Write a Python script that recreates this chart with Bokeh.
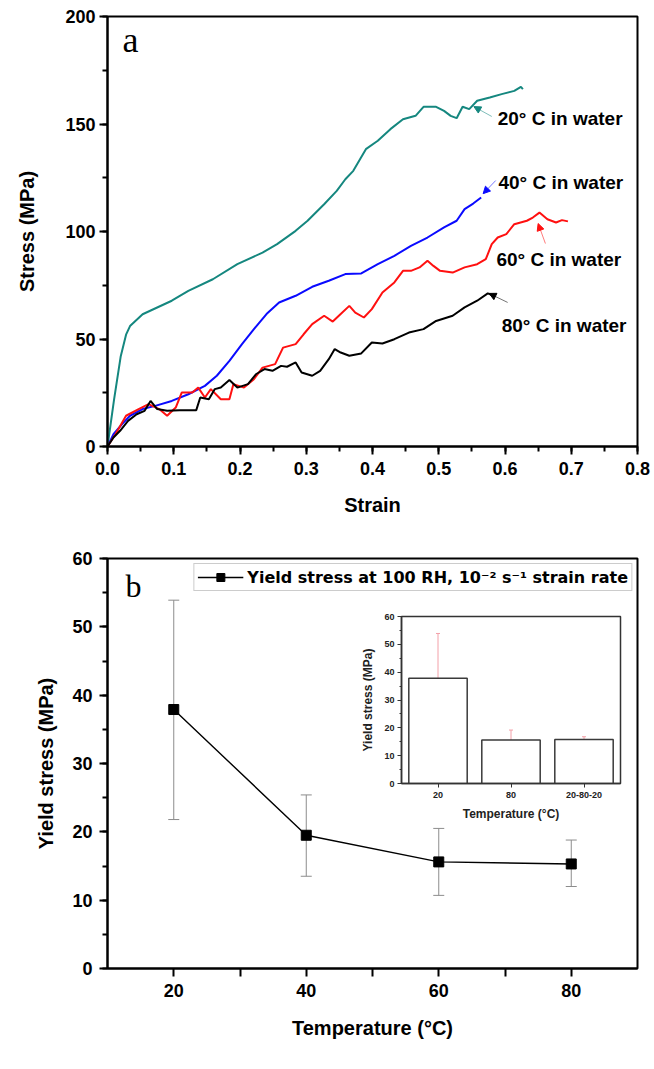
from bokeh.plotting import figure
from bokeh.layouts import column
from bokeh.models import (ColumnDataSource, SingleIntervalTicker, FixedTicker, NumeralTickFormatter,
                          Arrow, NormalHead, Whisker, TeeHead, Legend, LegendItem, Range1d)
from bokeh.core.properties import value
from bokeh.embed import file_html
from bokeh.resources import INLINE

# ---------------- Panel a data (stress-strain curves) ----------------
strain_20 = [0, 0.010, 0.020, 0.028, 0.034, 0.053, 0.097, 0.122, 0.159, 0.196, 0.234, 0.256, 0.284, 0.302,
             0.327, 0.346, 0.359, 0.371, 0.390, 0.408, 0.427, 0.446, 0.465, 0.477, 0.496, 0.508, 0.518,
             0.527, 0.536, 0.546, 0.558, 0.577, 0.595, 0.614, 0.624, 0.627]
stress_20 = [0, 22, 42, 52, 56, 61.5, 67.8, 72.4, 77.8, 84.8, 90.2, 94.1, 100.3, 105,
             112.7, 118.9, 124.3, 128.2, 138.3, 142.2, 147.6, 152.2, 153.8, 158, 158, 156.1, 153.8,
             152.7, 158, 156.9, 160.8, 162.3, 163.9, 165.4, 167.3, 166.2]

strain_40 = [0, 0.009, 0.022, 0.034, 0.053, 0.072, 0.097, 0.122, 0.147, 0.165, 0.184, 0.203, 0.221, 0.240,
             0.259, 0.284, 0.309, 0.334, 0.359, 0.383, 0.408, 0.433, 0.458, 0.483, 0.508, 0.527, 0.539,
             0.552, 0.564]
stress_40 = [0, 5.7, 10.4, 14.3, 17.4, 18.9, 21.2, 24.3, 28.2, 32.9, 39.8, 47.6, 54.6, 61.6,
             67, 70.1, 74.3, 77.1, 80.2, 80.5, 84.8, 88.7, 93.3, 97.2, 101.9, 105, 110.4,
             113, 115.8]

strain_60 = [0, 0.012, 0.028, 0.047, 0.062, 0.078, 0.090, 0.103, 0.112, 0.128, 0.137, 0.147, 0.156, 0.171,
             0.184, 0.190, 0.206, 0.221, 0.234, 0.253, 0.265, 0.284, 0.296, 0.309, 0.327, 0.340, 0.352,
             0.365, 0.374, 0.387, 0.399, 0.415, 0.433, 0.446, 0.458, 0.471, 0.483, 0.492, 0.502, 0.521,
             0.539, 0.558, 0.571, 0.580, 0.589, 0.602, 0.614, 0.633, 0.642, 0.652, 0.664, 0.677, 0.686, 0.695]
stress_60 = [0, 5.7, 14.3, 17.4, 19.7, 17.4, 14.3, 18.1, 25.1, 25.1, 27.4, 22.8, 26.7, 22.0,
             22.0, 29.0, 27.4, 31.3, 36.7, 38.3, 46.0, 47.6, 52.2, 56.9, 60.8, 58.1, 61.6,
             65.4, 62.3, 60.0, 63.9, 71.6, 76.3, 81.7, 81.7, 83.3, 86.4, 84.0, 81.7, 80.9,
             83.3, 84.8, 87.1, 94.1, 97.2, 98.8, 103.4, 105, 106.5, 108.8, 105.7, 104.2, 105.3, 104.7]

strain_80 = [0, 0.009, 0.019, 0.031, 0.044, 0.056, 0.065, 0.075, 0.090, 0.109, 0.134, 0.140, 0.153, 0.162,
             0.171, 0.184, 0.196, 0.212, 0.224, 0.237, 0.249, 0.262, 0.271, 0.284, 0.293, 0.309, 0.321,
             0.334, 0.343, 0.352, 0.365, 0.383, 0.399, 0.415, 0.433, 0.455, 0.477, 0.496, 0.521, 0.539,
             0.558, 0.574, 0.583]
stress_80 = [0, 4.2, 7.3, 11.9, 15.0, 16.6, 21.2, 17.4, 16.6, 16.9, 16.9, 22.8, 22.0, 26.7,
             27.4, 30.9, 27.4, 29.0, 33.6, 36.0, 35.2, 37.5, 37.1, 39.1, 34.4, 32.9, 35.2,
             40.6, 45.3, 43.7, 42.2, 43.3, 48.4, 47.9, 49.9, 53.0, 54.6, 58.4, 60.8, 64.7,
             67.8, 71.2, 70.1]

curve_labels = ["20\u00b0 C in water", "40\u00b0 C in water", "60\u00b0 C in water", "80\u00b0 C in water"]

# ---------------- Panel b data ----------------
temps = [20, 40, 60, 80]
yield_stress = [37.9, 19.5, 15.6, 15.3]
yield_lo = [21.8, 13.5, 10.7, 12.0]
yield_hi = [53.9, 25.4, 20.5, 18.8]

# inset
inset_cats = ["20", "80", "20-80-20"]
inset_vals = [37.8, 15.6, 15.8]
inset_lo = [21.9, 11.7, 15.0]
inset_hi = [53.9, 19.2, 16.8]

FONT = "Liberation Sans"
TEAL = "#15877f"
BLUE = "#0a0aff"
RED = "#ff1010"


def style_axes(p, tick_size="18px", label_size="20px"):
    for ax in p.axis:
        ax.axis_line_width = 2
        ax.axis_line_color = "black"
        ax.major_tick_line_width = 2
        ax.minor_tick_line_width = 2
        ax.major_tick_out = 8
        ax.major_tick_in = 0
        ax.minor_tick_out = 5
        ax.minor_tick_in = 0
        ax.minor_tick_line_color = "black"
        ax.major_label_text_font = FONT
        ax.major_label_text_font_style = "bold"
        ax.major_label_text_font_size = tick_size
        ax.major_label_text_color = "black"
        ax.axis_label_text_font = FONT
        ax.axis_label_text_font_style = "bold"
        ax.axis_label_text_font_size = label_size
        ax.axis_label_text_color = "black"
    p.xgrid.visible = False
    p.ygrid.visible = False
    p.outline_line_color = "black"
    p.outline_line_width = 2
    p.outline_line_alpha = 1


# ---------------- Panel a ----------------
pa = figure(width=654, height=520, x_range=Range1d(0, 0.8), y_range=Range1d(0, 200),
            output_backend="svg", toolbar_location=None,
            min_border_left=103, min_border_right=17, min_border_top=16, min_border_bottom=74)
pa.xaxis.ticker = SingleIntervalTicker(interval=0.1, num_minor_ticks=2)
pa.xaxis.formatter = NumeralTickFormatter(format="0.0")
pa.yaxis.ticker = SingleIntervalTicker(interval=50, num_minor_ticks=2)
pa.xaxis.axis_label = "Strain"
pa.yaxis.axis_label = "Stress (MPa)"
style_axes(pa)
pa.xaxis.major_label_standoff = 7
pa.xaxis.axis_label_standoff = 16
pa.yaxis.major_label_standoff = 4
pa.yaxis.axis_label_standoff = 24

pa.line(strain_20, stress_20, color=TEAL, line_width=2)
pa.line(strain_40, stress_40, color=BLUE, line_width=2)
pa.line(strain_60, stress_60, color=RED, line_width=2)
pa.line(strain_80, stress_80, color="black", line_width=2)

# annotation arrows (tail near label -> head at curve)
arrows = [((0.580, 153.5), (0.553, 158.1), TEAL),
          ((0.586, 123.7), (0.567, 117.6), BLUE),
          ((0.661, 94.4), (0.650, 103.7), RED),
          ((0.604, 67.0), (0.576, 71.2), "black")]
for (x0, y0), (x1, y1), c in arrows:
    pa.add_layout(Arrow(x_start=x0, y_start=y0, x_end=x1, y_end=y1, line_color=c, line_alpha=0.55,
                        line_width=1,
                        end=NormalHead(size=7, fill_color=c, line_color=c)))

lab_x = [0.589, 0.590, 0.587, 0.595]
lab_y = [152.6, 122.8, 87.0, 56.3]
pa.text(x=lab_x, y=lab_y, text=curve_labels, text_font=value(FONT), text_font_style="bold",
        text_font_size="19px", text_baseline="middle", text_align="left", text_color="black")
pa.text(x=[0.0225], y=[189], text=["a"], text_font=value("Liberation Serif"),
        text_font_size="36px", text_baseline="alphabetic", text_color="black")

# ---------------- Panel b ----------------
pb = figure(width=654, height=549, x_range=Range1d(10, 90), y_range=Range1d(0, 60),
            output_backend="svg", toolbar_location=None,
            min_border_left=107, min_border_right=13, min_border_top=38, min_border_bottom=101)
pb.xaxis.ticker = FixedTicker(ticks=[20, 40, 60, 80], minor_ticks=[30, 50, 70])
pb.yaxis.ticker = SingleIntervalTicker(interval=10, num_minor_ticks=2)
pb.xaxis.axis_label = "Temperature (\u00b0C)"
pb.yaxis.axis_label = "Yield stress (MPa)"
style_axes(pb)
pb.xaxis.minor_tick_out = 8
pb.xaxis.major_label_standoff = 7
pb.xaxis.axis_label_standoff = 17
pb.yaxis.major_label_standoff = 7
pb.yaxis.axis_label_standoff = 12

src_b = ColumnDataSource(dict(t=temps, y=yield_stress, lo=yield_lo, hi=yield_hi))
pb.add_layout(Whisker(source=src_b, base="t", upper="hi", lower="lo", line_color="#8c8c8c", line_width=1,
                      upper_head=TeeHead(size=11, line_color="#8c8c8c", line_width=1),
                      lower_head=TeeHead(size=11, line_color="#8c8c8c", line_width=1)))
lr = pb.line("t", "y", source=src_b, color="black", line_width=1.4)
sr = pb.scatter("t", "y", source=src_b, marker="square", size=10, color="black")

leg = Legend(items=[LegendItem(label="Yield stress at 100 RH, 10\u207b\u00b2 s\u207b\u00b9 strain rate",
                               renderers=[lr, sr])],
             location="top_right", margin=5, padding=3, spacing=0,
             label_text_font="DejaVu Sans", label_text_font_style="bold", label_text_font_size="16px",
             label_text_color="black",
             label_standoff=4, glyph_width=46, glyph_height=20,
             border_line_color="#9a9a9a", border_line_width=1.5, background_fill_color="white")
pb.add_layout(leg)
pb.text(x=[12.7], y=[56.0], text=["b"], text_font=value("Liberation Serif"),
        text_font_size="32px", text_baseline="alphabetic", text_color="black")

# ---------------- Inset (separate root, absolutely positioned over panel b) ----------------
ins = figure(width=275, height=225, x_range=inset_cats, y_range=Range1d(0, 60),
             output_backend="svg", toolbar_location=None,
             min_border_left=46, min_border_right=10, min_border_top=11, min_border_bottom=47,
             background_fill_alpha=0, border_fill_alpha=0,
             styles={"position": "absolute", "left": "355px", "top": "605px"})
ins.yaxis.ticker = SingleIntervalTicker(interval=10, num_minor_ticks=2)
ins.xaxis.axis_label = "Temperature (\u00b0C)"
ins.yaxis.axis_label = "Yield stress (MPa)"
for ax in ins.axis:
    ax.axis_line_color = "#333333"
    ax.axis_line_width = 1.5
    ax.major_tick_line_color = "#333333"
    ax.minor_tick_line_color = "#333333"
    ax.major_tick_out = 4
    ax.major_tick_in = 0
    ax.minor_tick_out = 2
    ax.minor_tick_in = 0
    ax.major_label_text_font = FONT
    ax.major_label_text_font_style = "bold"
    ax.major_label_text_font_size = "9px"
    ax.major_label_text_color = "#222222"
    ax.axis_label_text_font = FONT
    ax.axis_label_text_font_style = "bold"
    ax.axis_label_text_font_size = "12px"
    ax.axis_label_text_color = "#222222"
ins.xaxis.major_label_standoff = 4
ins.xaxis.axis_label_standoff = 6
ins.yaxis.major_label_standoff = 3
ins.yaxis.axis_label_standoff = 6
ins.xgrid.visible = False
ins.ygrid.visible = False
ins.outline_line_color = "#333333"
ins.outline_line_width = 1.5

src_i = ColumnDataSource(dict(c=inset_cats, v=inset_vals, lo=inset_lo, hi=inset_hi))
ins.vbar(x="c", top="v", width=0.8, source=src_i, fill_color="white", line_color="#3a3a3a", line_width=1.5)
ins.add_layout(Whisker(source=src_i, base="c", upper="hi", lower="lo", line_color="#f3a0a8", line_width=1,
                       upper_head=TeeHead(size=4, line_color="#f3a0a8", line_width=1),
                       lower_head=TeeHead(size=4, line_color="#f3a0a8", line_width=1)))

p = [column(pa, pb, spacing=0), ins]
open("out.html", "w").write(file_html(p, INLINE))
